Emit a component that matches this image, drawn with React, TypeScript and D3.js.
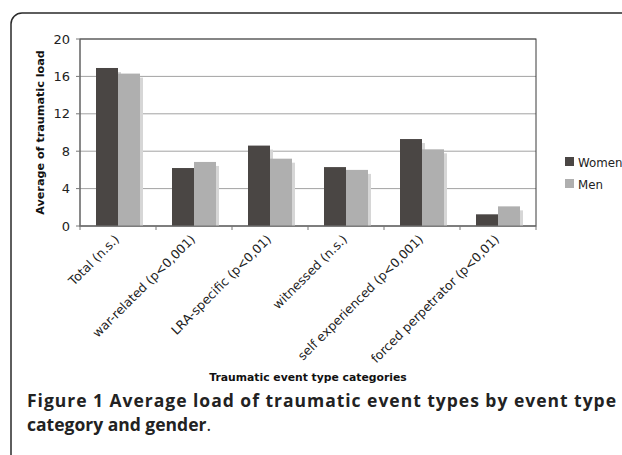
import { useEffect } from 'react'
import * as d3 from 'd3'

const categories = [
  'Total (n.s.)',
  'war-related (p<0,001)',
  'LRA-specific (p<0,01)',
  'witnessed (n.s.)',
  'self experienced (p<0,001)',
  'forced perpetrator (p<0,01)',
]
const women = [16.9, 6.2, 8.6, 6.3, 9.3, 1.25]
const men = [16.3, 6.85, 7.2, 6.0, 8.2, 2.1]
const seriesNames = ['Women', 'Men']
const yTicks = [0, 4, 8, 12, 16, 20]

const W = 622
const H = 455
const plot = { left: 80, top: 39, right: 536, bottom: 226 }
const colors = ['#4a4644', '#afafaf']
const font = '"DejaVu Sans", Verdana, sans-serif'

const App = () => {
  useEffect(() => {
    document.body.style.margin = '0'
  }, [])

  const x = d3
    .scaleBand<string>()
    .domain(categories)
    .range([plot.left, plot.right])
    .paddingInner(0)
  const y = d3.scaleLinear().domain([0, 20]).range([plot.bottom, plot.top])
  const barW = 22
  const groupOffset = (x.bandwidth() - barW * 2) / 2

  const data = categories.map((c, i) => ({ c, vals: [women[i], men[i]] }))

  return (
    <svg width={W} height={H} style={{ display: 'block', background: '#fff' }}>
      <rect x={11} y={13} width={W + 20} height={H + 20} rx={11} fill="#fff" stroke="#2a2a2a" strokeWidth={1.5} />

      {/* gridlines */}
      {yTicks.map((t) => (
        <line key={t} x1={plot.left} x2={plot.right} y1={y(t)} y2={y(t)} stroke="#8a8a8a" strokeWidth={0.8} />
      ))}
      <rect
        x={plot.left}
        y={plot.top}
        width={plot.right - plot.left}
        height={plot.bottom - plot.top}
        fill="none"
        stroke="#3a3a3a"
        strokeWidth={1}
      />

      {/* bars */}
      {data.map((d) =>
        d.vals.map((v, j) => {
          const bx = (x(d.c) ?? 0) + groupOffset + j * barW
          return (
            <g key={d.c + j}>
              <rect x={bx + 3} y={y(v) + 4} width={barW} height={plot.bottom - y(v) - 4} fill="#d6d6d6" />
              <rect x={bx} y={y(v)} width={barW} height={plot.bottom - y(v)} fill={colors[j]} />
            </g>
          )
        })
      )}

      {/* axes */}
      <line x1={plot.left} x2={plot.left} y1={plot.top} y2={plot.bottom} stroke="#777" />
      <line x1={plot.left - 1} x2={plot.right} y1={plot.bottom} y2={plot.bottom} stroke="#777" />
      {yTicks.map((t) => (
        <g key={t}>
          <line x1={plot.left - 4} x2={plot.left} y1={y(t)} y2={y(t)} stroke="#777" />
          <text x={plot.left - 10} y={y(t)} dy="0.36em" textAnchor="end" fontFamily={font} fontSize={13} fill="#222">
            {t}
          </text>
        </g>
      ))}
      {[...categories.map((c) => x(c) ?? 0), plot.right].map((px, i) => (
        <line key={i} x1={px} x2={px} y1={plot.bottom} y2={plot.bottom + 4} stroke="#777" />
      ))}
      {categories.map((c) => {
        const cx = (x(c) ?? 0) + x.bandwidth() / 2
        return (
          <text
            key={c}
            transform={`translate(${cx + 2},${plot.bottom + 14}) rotate(-45)`}
            textAnchor="end"
            fontFamily={font}
            fontSize={12.5}
            fill="#222"
          >
            {c}
          </text>
        )
      })}

      <text
        transform={`translate(44,${(plot.top + plot.bottom) / 2}) rotate(-90)`}
        textAnchor="middle"
        fontFamily={font}
        fontSize={11.2}
        fontWeight="bold"
        fill="#111"
      >
        Average of traumatic load
      </text>
      <text x={308} y={381} textAnchor="middle" fontFamily={font} fontSize={10.8} fontWeight="bold" fill="#111">
        Traumatic event type categories
      </text>

      {/* legend */}
      {seriesNames.map((s, i) => (
        <g key={s} transform={`translate(565,${157 + i * 22})`}>
          <rect width={9} height={9} fill={colors[i]} />
          <text x={13} y={9.5} fontFamily={font} fontSize={11.8} fill="#222">
            {s}
          </text>
        </g>
      ))}

      {/* caption */}
      <text x={27} y={407} fontFamily='"Open Sans", sans-serif' fontSize={17.5} fontWeight="bold" fill="#222" textLength={589} lengthAdjust="spacing">
        Figure 1 Average load of traumatic event types by event type
      </text>
      <text x={27} y={431} fontFamily='"Open Sans", sans-serif' fontSize={17.5} fill="#222">
        <tspan fontWeight="bold">category and gender</tspan>.
      </text>
    </svg>
  )
}

export default App
